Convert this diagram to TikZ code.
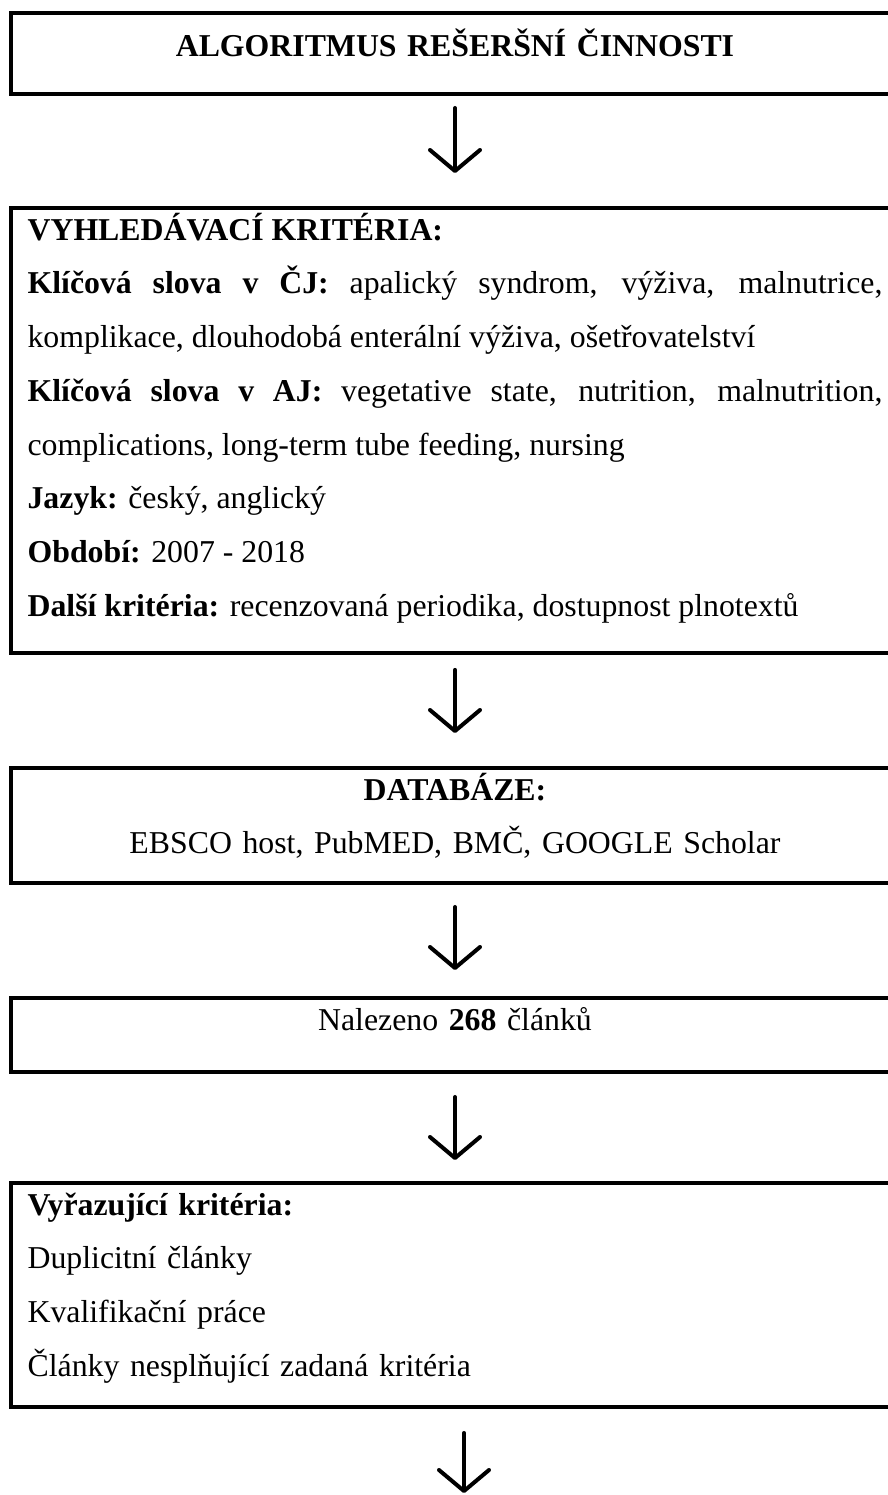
\documentclass[tikz,border=0pt]{standalone}
\usepackage{fontspec}
\setmainfont{Liberation Serif}
\usetikzlibrary{arrows.meta}

\begin{document}
\begin{tikzpicture}[
            x=0.02cm, y=-0.02cm,
            box/.style = {rectangle, draw, line width=0.08cm, anchor=north,
                minimum width=17.78cm, text width=17.1cm, inner xsep=0.34cm,
                inner ysep=0pt, text height=0.64cm,
                font={\fontsize{18.1pt}{30.6pt}\selectfont}},
            flow/.style = {draw, line width=0.08cm, line cap=round,
                -{Straight Barb[round, length=0.42cm, width=1cm]}},
        ]

            % Page frame (boxes run past the right edge)
            \useasboundingbox (0,0) rectangle (888,1495);
            \clip (0,0) rectangle (888,1495);

            % Boxes
            \node[box, align=center, text height=0.88cm, text depth=0.74cm,
                font={\fontsize{18.1pt}{25pt}\selectfont\bfseries}] (title) at (455,11)
                {ALGORITMUS REŠERŠNÍ ČINNOSTI};
            \node[box, align=justify, text depth=8.26cm] (crit) at (455,206)
                {\textbf{VYHLEDÁVACÍ KRITÉRIA:}\\
                \textbf{Klíčová slova v ČJ:} apalický syndrom, výživa, malnutrice,\linebreak
                komplikace, dlouhodobá enterální výživa, ošetřovatelství\\
                \textbf{Klíčová slova v AJ:} vegetative state, nutrition, malnutrition,\linebreak
                complications, long-term tube feeding, nursing\\
                \textbf{Jazyk:} český, anglický\\
                \textbf{Období:} 2007 - 2018\\
                \textbf{Další kritéria:} recenzovaná periodika, dostupnost plnotextů};
            \node[box, align=center, text depth=1.66cm] (db) at (455,766)
                {\textbf{DATABÁZE:}\\ EBSCO host, PubMED, BMČ, GOOGLE Scholar};
            \node[box, align=center, text depth=0.84cm] (found) at (455,996)
                {Nalezeno \textbf{268} článků};
            \node[box, align=left, text depth=3.84cm] (excl) at (455,1181)
                {\textbf{Vyřazující kritéria:}\\ Duplicitní články\\
                Kvalifikační práce\\ Články nesplňující zadaná kritéria};
            \coordinate (done) at (464,1493);

            % Arrows
            \draw[flow, shorten <=0.24cm, shorten >=0.66cm] (title) -- (crit);
            \draw[flow, shorten <=0.3cm, shorten >=0.66cm] (crit) -- (db);
            \draw[flow, shorten <=0.44cm, shorten >=0.52cm] (db) -- (found);
            \draw[flow, shorten <=0.46cm, shorten >=0.42cm] (found) -- (excl);
            \draw[flow, shorten <=0.48cm] (excl.south -| done) -- (done);

        \end{tikzpicture}
\end{document}
